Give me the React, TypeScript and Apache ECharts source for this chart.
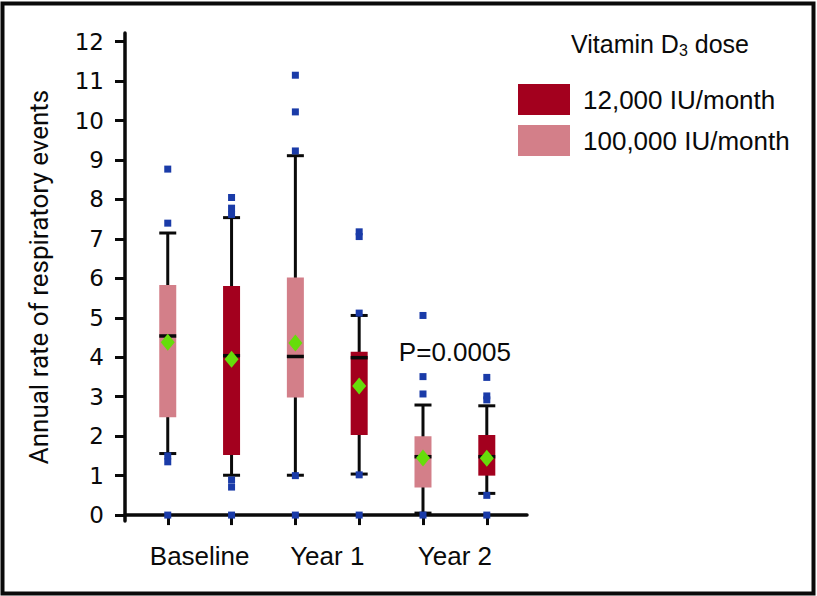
import React, { useEffect, useRef } from 'react';
import * as echarts from 'echarts';

// ---- data ----
const categories = ['Baseline', 'Year 1', 'Year 2'];
const categoryCenters = [1.5, 3.5, 5.5];
const boxPositions = [1, 2, 3, 4, 5, 6];
const highDosePositions = [1, 3, 5]; // 100,000 IU/month
const lowDosePositions = [2, 4, 6]; // 12,000 IU/month
// [lower whisker, Q1, median, Q3, upper whisker]
const highDoseBoxes = [
  [1.56, 2.48, 4.54, 5.83, 7.15],
  [1.01, 2.98, 4.02, 6.02, 9.11],
  [0.05, 0.7, 1.48, 2.0, 2.79],
];
const lowDoseBoxes = [
  [1.01, 1.52, 4.04, 5.81, 7.54],
  [1.04, 2.03, 3.99, 4.14, 5.06],
  [0.55, 1.0, 1.48, 2.03, 2.77],
];
const highDoseMeans = [4.38, 4.36, 1.45];
const lowDoseMeans = [3.95, 3.27, 1.44];
const highDoseOutliers = [
  [8.77, 7.4, 1.5, 1.35, 0],
  [11.15, 10.22, 9.23, 1.0, 0],
  [5.06, 3.51, 3.07, 0],
];
const lowDoseOutliers = [
  [8.05, 7.78, 7.62, 0.89, 0.71, 0],
  [7.18, 7.06, 5.12, 1.02, 0],
  [3.49, 3.02, 2.92, 0.5, 0],
];
const yTicks = [0, 1, 2, 3, 4, 5, 6, 7, 8, 9, 10, 11, 12];
const pValueText = 'P=0.0005';
const pValuePoint = [5.5, 4.14];
const lowDoseName = '12,000 IU/month';
const highDoseName = '100,000 IU/month';

const RED = '#A3001E';
const PINK = '#D37F89';
const BLUE = '#1A3BA8';
const GREEN = '#66DD0A';
const INK = '#0a0a0a';

function makeRenderItem(color: string) {
  return (params: any, api: any) => {
    const x = api.value(0);
    const lo = api.coord([x, api.value(1)]);
    const q1 = api.coord([x, api.value(2)]);
    const med = api.coord([x, api.value(3)]);
    const q3 = api.coord([x, api.value(4)]);
    const hi = api.coord([x, api.value(5)]);
    const half = 8.5;
    return {
      type: 'group',
      children: [
        { type: 'line', shape: { x1: lo[0], y1: lo[1], x2: hi[0], y2: hi[1] }, style: { stroke: INK, lineWidth: 3 } },
        { type: 'line', shape: { x1: lo[0] - half, y1: lo[1], x2: lo[0] + half, y2: lo[1] }, style: { stroke: INK, lineWidth: 3 } },
        { type: 'line', shape: { x1: hi[0] - half, y1: hi[1], x2: hi[0] + half, y2: hi[1] }, style: { stroke: INK, lineWidth: 3 } },
        { type: 'rect', shape: { x: q3[0] - half, y: q3[1], width: half * 2, height: q1[1] - q3[1] }, style: { fill: color } },
        { type: 'line', shape: { x1: med[0] - half, y1: med[1], x2: med[0] + half, y2: med[1] }, style: { stroke: INK, lineWidth: 3.5 } },
      ],
    };
  };
}

export default function App() {
  const ref = useRef<HTMLDivElement>(null);
  useEffect(() => {
    document.body.style.margin = '0';
    if (!ref.current) return;
    const chart = echarts.init(ref.current, null, { renderer: 'svg' });

    const highBoxData = highDosePositions.map((p, i) => [p, ...highDoseBoxes[i]]);
    const lowBoxData = lowDosePositions.map((p, i) => [p, ...lowDoseBoxes[i]]);
    const outlierData: number[][] = [];
    highDosePositions.forEach((p, i) => highDoseOutliers[i].forEach((v) => outlierData.push([p, v])));
    lowDosePositions.forEach((p, i) => lowDoseOutliers[i].forEach((v) => outlierData.push([p, v])));
    const meanData = [
      ...highDosePositions.map((p, i) => [p, highDoseMeans[i]]),
      ...lowDosePositions.map((p, i) => [p, lowDoseMeans[i]]),
    ];

    const option: any = {
      animation: false,
      backgroundColor: '#ffffff',
      grid: { left: 125, right: 290, top: 33, bottom: 75 },
      title: {
        text: 'Vitamin D{sub|3} dose',
        left: 571,
        top: 30,
        padding: 0,
        textStyle: {
          fontFamily: 'Liberation Sans',
          fontSize: 25,
          fontWeight: 'normal',
          color: INK,
          rich: {
            sub: { fontFamily: 'Liberation Sans', fontSize: 16, color: INK, verticalAlign: 'bottom', padding: [12, 0, 0, 0] },
          },
        },
      },
      legend: {
        data: [lowDoseName, highDoseName],
        orient: 'vertical',
        left: 518,
        top: 84,
        padding: 0,
        itemWidth: 52,
        itemHeight: 31,
        itemGap: 10,
        icon: 'rect',
        selectedMode: false,
        textStyle: { fontFamily: 'Liberation Sans', fontSize: 26, color: INK, padding: [0, 0, 0, 8] },
      },
      xAxis: {
        type: 'value',
        min: 0.33,
        max: 6.63,
        axisLine: { show: true, lineStyle: { color: INK, width: 3.5 } },
        axisTick: { show: true, customValues: boxPositions, length: 10, lineStyle: { color: INK, width: 3 } },
        axisLabel: {
          customValues: categoryCenters,
          margin: 22,
          fontFamily: 'Liberation Sans',
          fontSize: 26,
          color: INK,
          formatter: (v: number) => {
            const i = categoryCenters.findIndex((c) => Math.abs(c - v) < 0.01);
            return i >= 0 ? categories[i] : '';
          },
        },
        splitLine: { show: false },
      },
      yAxis: {
        type: 'value',
        min: -0.15,
        max: 12.22,
        name: 'Annual rate of respiratory events',
        nameLocation: 'middle',
        nameGap: 73,
        nameTextStyle: { fontFamily: 'Roboto', fontSize: 26, color: INK },
        axisLine: { show: true, lineStyle: { color: INK, width: 3.5 } },
        axisTick: { show: true, customValues: yTicks, length: 10, lineStyle: { color: INK, width: 3 } },
        axisLabel: { customValues: yTicks, margin: 21, fontFamily: 'DejaVu Sans', fontSize: 23, color: INK },
        splitLine: { show: false },
      },
      series: [
        {
          name: highDoseName,
          type: 'custom',
          renderItem: makeRenderItem(PINK),
          itemStyle: { color: PINK },
          encode: { x: 0, y: [1, 2, 3, 4, 5] },
          data: highBoxData,
          z: 2,
        },
        {
          name: lowDoseName,
          type: 'custom',
          renderItem: makeRenderItem(RED),
          itemStyle: { color: RED },
          encode: { x: 0, y: [1, 2, 3, 4, 5] },
          data: lowBoxData,
          z: 2,
        },
        {
          name: 'outliers',
          type: 'scatter',
          symbol: 'rect',
          symbolSize: 7,
          itemStyle: { color: BLUE, opacity: 1 },
          data: outlierData,
          z: 3,
          silent: true,
        },
        {
          name: 'means',
          type: 'scatter',
          symbol: 'diamond',
          symbolSize: [14, 17],
          itemStyle: { color: GREEN, opacity: 1 },
          data: meanData,
          z: 4,
          silent: true,
        },
        {
          name: 'pvalue',
          type: 'scatter',
          symbolSize: 0,
          silent: true,
          data: [pValuePoint],
          itemStyle: { opacity: 1 },
          label: {
            show: true,
            position: 'inside',
            formatter: pValueText,
            fontFamily: 'Liberation Sans',
            fontSize: 26,
            color: INK,
            opacity: 1,
          },
          z: 5,
        },
      ],
      graphic: [
        {
          type: 'rect',
          left: 0,
          top: 1,
          shape: { width: 811, height: 590 },
          style: { fill: 'none', stroke: INK, lineWidth: 4 },
          silent: true,
          z: 10,
        },
      ],
    };
    chart.setOption(option);
    return () => chart.dispose();
  }, []);
  return <div ref={ref} style={{ width: 817, height: 596 }} />;
}
